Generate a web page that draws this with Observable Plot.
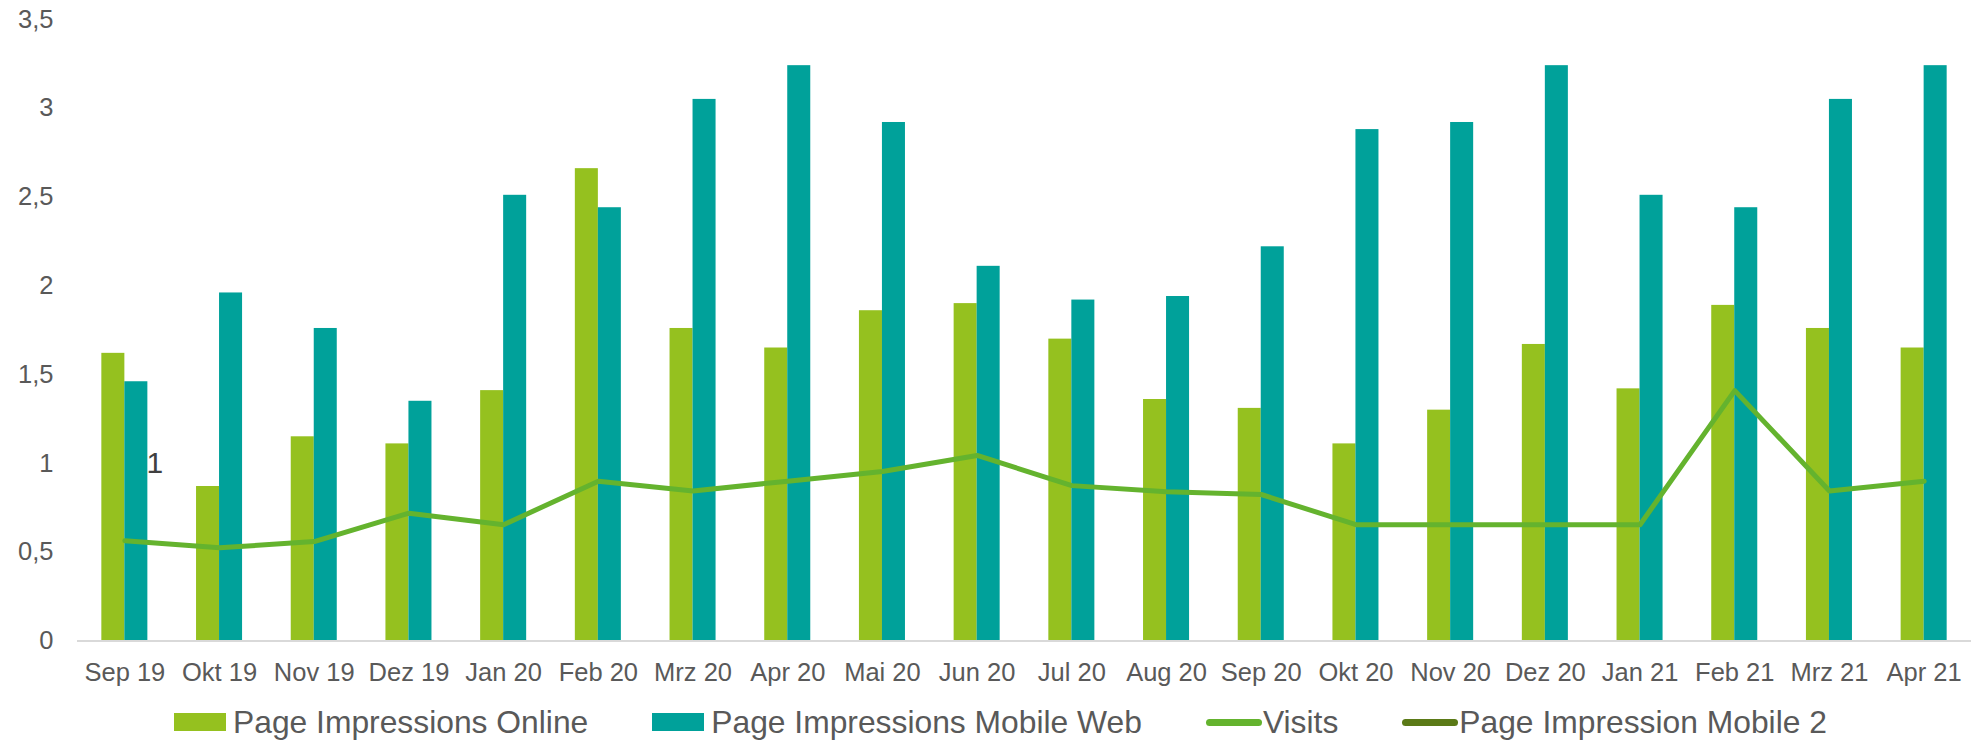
<!DOCTYPE html>
<html>
<head>
<meta charset="utf-8">
<script src="https://cdn.jsdelivr.net/npm/d3@7"></script>
<script src="https://cdn.jsdelivr.net/npm/@observablehq/plot@0.6"></script>
<style>
  html, body { margin: 0; padding: 0; background: #fff; }
  body { width: 1985px; height: 741px; overflow: hidden; font-family: "Liberation Sans", Arial, sans-serif; }
  #legend { height: 46px; display: flex; align-items: center; padding-left: 174px; padding-top: 8px; box-sizing: border-box;
            font-size: 31.8px; color: #595959; gap: 64px; white-space: nowrap; }
  .item { display: flex; align-items: center; }
  .sw { width: 52px; height: 18px; margin-right: 7px; }
  .ln { width: 56px; height: 7px; border-radius: 4px; margin-right: 1px; }
</style>
</head>
<body>
<div id="chart"></div>
<div id="legend"></div>
<script>
const months = ["Sep 19","Okt 19","Nov 19","Dez 19","Jan 20","Feb 20","Mrz 20","Apr 20","Mai 20","Jun 20",
                "Jul 20","Aug 20","Sep 20","Okt 20","Nov 20","Dez 20","Jan 21","Feb 21","Mrz 21","Apr 21"];
const online    = [1.62,0.87,1.15,1.11,1.41,2.66,1.76,1.65,1.86,1.90,1.70,1.36,1.31,1.11,1.30,1.67,1.42,1.89,1.76,1.65];
const mobileWeb = [1.46,1.96,1.76,1.35,2.51,2.44,3.05,3.24,2.92,2.11,1.92,1.94,2.22,2.88,2.92,3.24,2.51,2.44,3.05,3.24];
const visits    = [0.565,0.525,0.56,0.72,0.655,0.90,0.845,0.90,0.955,1.045,0.875,0.84,0.825,0.655,0.655,0.655,0.655,1.41,0.845,0.90];
const labelMonth = ["Sep 19"];
const labelValue = [1];
const yTicks = [0,0.5,1,1.5,2,2.5,3,3.5];
const seriesNames = ["Page Impressions Online","Page Impressions Mobile Web","Visits","Page Impression Mobile 2"];
const colors = ["#95c11f","#00a19a","#64b32e","#5b7a17"];

const rows = months.map((m, i) => ({month: m, online: online[i], mobileWeb: mobileWeb[i], visits: visits[i]}));
const labels = labelMonth.map((m, i) => ({month: m, value: labelValue[i]}));

const fmt = d => String(d).replace(".", ",");
const half = 23;

const chart = Plot.plot({
  width: 1985,
  height: 695,
  marginLeft: 77,
  marginRight: 14,
  marginTop: 19,
  marginBottom: 54.5,
  style: {fontFamily: "'Liberation Sans', Arial, sans-serif", color: "#595959", background: "#fff"},
  x: {domain: months, paddingInner: 0.514, paddingOuter: 0.257, round: false, label: null},
  y: {domain: [0, 3.5], label: null},
  marks: [
    Plot.barY(rows, {x: "month", y: "online", fill: colors[0], insetRight: half, insetLeft: 0}),
    Plot.barY(rows, {x: "month", y: "mobileWeb", fill: colors[1], insetLeft: half, insetRight: 0}),
    Plot.ruleY([0], {stroke: "#d9d9d9", strokeWidth: 2}),
    Plot.lineY(rows, {x: "month", y: "visits", stroke: colors[2], strokeWidth: 5, strokeLinejoin: "round"}),
    Plot.text(labels, {x: "month", y: "value", text: d => fmt(d.value), dx: 30, fontSize: 30, fill: "#404040"}),
    Plot.axisX({tickSize: 0, tickPadding: 22, fontSize: 25.5, label: null}),
    Plot.axisY({ticks: yTicks, tickFormat: fmt, tickSize: 0, tickPadding: 24, fontSize: 25.5, label: null})
  ]
});
document.getElementById("chart").appendChild(chart);

const legend = document.getElementById("legend");
seriesNames.forEach((name, i) => {
  const item = document.createElement("div");
  item.className = "item";
  const sw = document.createElement("div");
  sw.className = i < 2 ? "sw" : "ln";
  sw.style.background = colors[i];
  const t = document.createElement("span");
  t.textContent = name;
  item.appendChild(sw);
  item.appendChild(t);
  legend.appendChild(item);
});
</script>
</body>
</html>
